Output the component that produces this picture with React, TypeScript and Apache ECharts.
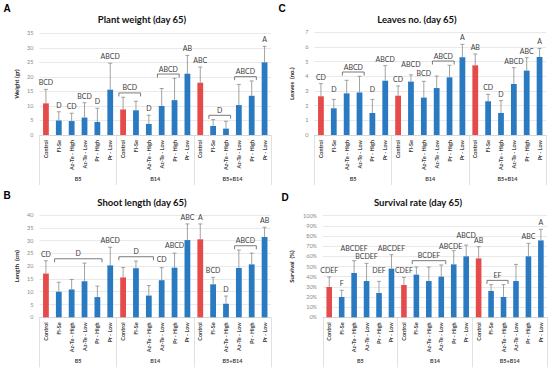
import React, { useEffect, useRef } from "react";
import * as echarts from "echarts";

// ---------- data ----------
const groups = ["B5", "B14", "B5+B14"];
const treatments = ["Control", "Fl-Se", "Az-Te - High", "Az-Te - Low", "Pr - High", "Pr - Low"];
const categories = groups.flatMap(() => treatments);

const weightMean = [10.9, 5.0, 4.8, 6.0, 4.5, 15.6, 8.8, 8.5, 3.8, 10.0, 12.0, 21.1, 18.0, 3.1, 2.2, 10.3, 13.5, 25.0];
const weightSd = [4.8, 3.0, 2.7, 5.1, 4.7, 9.1, 4.2, 3.1, 3.0, 6.0, 7.5, 6.3, 5.4, 2.2, 2.5, 7.1, 5.1, 5.5];
const weightLetters = ["BCD", "D", "CD", "BCD", "D", "ABCD", "", "", "D", "", "", "AB", "ABC", "", "", "", "", "A"];
const weightBrackets: [number, number, string][] = [[6, 7, "BCD"], [9, 10, "ABCD"], [13, 14, "D"], [15, 16, "ABCD"]];

const leavesMean = [2.64, 1.82, 2.84, 2.9, 1.5, 3.7, 2.68, 3.64, 2.55, 3.2, 3.93, 5.3, 4.75, 2.3, 1.5, 3.48, 4.39, 5.32];
const leavesSd = [0.86, 0.61, 0.89, 1.1, 0.93, 1.03, 0.66, 0.46, 1.11, 0.82, 0.82, 0.88, 0.77, 0.47, 0.84, 1.11, 0.88, 0.58];
const leavesLetters = ["CD", "D", "", "", "D", "ABCD", "CD", "ABCD", "BCD", "", "", "A", "AB", "CD", "D", "ABCD", "ABC", "A"];
const leavesBrackets: [number, number, string][] = [[2, 3, "ABCD"], [9, 10, "ABCD"]];

const lengthMean = [17.1, 10.0, 10.9, 14.1, 7.9, 20.3, 15.6, 19.2, 8.5, 14.5, 19.4, 30.2, 30.5, 12.9, 5.3, 19.3, 20.7, 31.4];
const lengthSd = [5.0, 3.7, 3.9, 7.1, 4.3, 7.1, 3.9, 2.8, 3.9, 4.9, 5.7, 6.3, 6.0, 2.7, 3.0, 7.0, 4.4, 3.8];
const lengthLetters = ["CD", "", "", "", "", "ABCD", "", "", "", "CD", "ABCD", "ABC", "A", "BCD", "D", "", "", "AB"];
const lengthBrackets: [number, number, string][] = [[1, 4, "D"], [6, 8, "D"], [15, 16, "ABCD"]];

const survivalMean = [29.8, 20, 43.6, 35.7, 23.9, 47.9, 31.8, 42, 35.7, 40, 52.1, 60, 58, 25.9, 20, 35.7, 60, 75.7];
const survivalSd = [9.9, 6.6, 12.1, 17.4, 11.5, 13.7, 7.5, 7.5, 13.8, 11.5, 13.5, 11.1, 11.5, 6.2, 12.1, 16.4, 12.8, 10.9];
const survivalLetters = ["CDEF", "F", "ABCDEF", "BCDEF", "DEF", "ABCDEF", "CDEF", "", "", "", "ABCDE", "ABCD", "AB", "", "", "", "ABC", "A"];
const survivalBrackets: [number, number, string][] = [[7, 9, "BCDEF"], [13, 14, "EF"]];

// ---------- styling ----------
const RED = "#E64B4B";
const BLUE = "#2A7AC2";
const FONT = "Lato";
const TXT = "#404040";

type Panel = {
  title: string;
  tag: string;
  yName: string;
  mean: number[];
  sd: number[];
  letters: string[];
  brackets: [number, number, string][];
  max: number;
  interval: number;
  percent?: boolean;
  grid: { left: number; top: number; width: number; height: number };
  titlePos: [number, number];
  tagPos: [number, number];
  nameGap: number;
  lift?: Record<number, number>;
  shift?: Record<number, number>;
};

const panels: Panel[] = [
  {
    title: "Plant weight (day 65)", tag: "A", yName: "Weight (gr)",
    mean: weightMean, sd: weightSd, letters: weightLetters, brackets: weightBrackets,
    max: 35, interval: 5,
    grid: { left: 39.5, top: 33.3, width: 231.5, height: 101.7 },
    titlePos: [142, 19], tagPos: [7, 8], nameGap: 20,
  },
  {
    title: "Leaves no. (day 65)", tag: "C", yName: "Leaves  (no.)",
    mean: leavesMean, sd: leavesSd, letters: leavesLetters, brackets: leavesBrackets,
    max: 7, interval: 1,
    grid: { left: 314.5, top: 32.3, width: 231.5, height: 102.7 },
    titlePos: [417, 19], tagPos: [282, 8], nameGap: 20,
    lift: { 1: 3, 4: 3, 7: 4, 8: 1 },
  },
  {
    title: "Shoot length (day 65)", tag: "B", yName: "Length  (cm)",
    mean: lengthMean, sd: lengthSd, letters: lengthLetters, brackets: lengthBrackets,
    max: 40, interval: 5,
    grid: { left: 39.5, top: 215, width: 231.5, height: 102.3 },
    titlePos: [142, 202], tagPos: [7, 195], nameGap: 20,
    lift: { 9: 2, 10: 1 },
  },
  {
    title: "Survival rate (day 65)", tag: "D", yName: "Survival  (%)",
    mean: survivalMean, sd: survivalSd, letters: survivalLetters, brackets: survivalBrackets,
    max: 100, interval: 10, percent: true,
    grid: { left: 323, top: 215.7, width: 224.1, height: 101.6 },
    titlePos: [418, 202], tagPos: [285, 197], nameGap: 28.5,
    lift: { 2: 6, 4: 4, 10: -2, 11: 3.5 },
    shift: { 10: -3 },
  },
];

function buildOption() {
  const grid: any[] = [];
  const xAxis: any[] = [];
  const yAxis: any[] = [];
  const series: any[] = [];
  const graphic: any[] = [];

  panels.forEach((p, i) => {
    grid.push({ ...p.grid, containLabel: false });
    xAxis.push({
      type: "category", gridIndex: i, data: categories,
      axisLine: { lineStyle: { color: "#d0d0d0", width: 0.8 } },
      axisTick: { show: false },
      axisLabel: { rotate: 90, interval: 0, fontSize: 5.5, fontFamily: FONT, fontWeight: "bold", color: TXT, margin: 5 },
      splitLine: { show: false },
    });
    xAxis.push({
      type: "category", gridIndex: i, data: groups, position: "bottom", offset: 50,
      axisLine: { show: false },
      axisTick: { show: true, inside: true, length: 50, lineStyle: { color: "#d9d9d9", width: 0.8 } },
      axisLabel: { inside: true, margin: 3, fontSize: 5.5, fontFamily: FONT, fontWeight: "bold", color: TXT },
      splitLine: { show: false },
    });
    yAxis.push({
      type: "value", gridIndex: i, min: 0, max: p.max, interval: p.interval,
      name: p.yName, nameLocation: "middle", nameGap: p.nameGap, nameRotate: 90,
      nameTextStyle: { fontSize: 6, fontWeight: "bold", fontFamily: FONT, color: "#262626" },
      axisLine: { show: false }, axisTick: { show: false },
      axisLabel: {
        fontSize: 5.5, fontFamily: FONT, color: "#8a8a8a", margin: 6,
        formatter: p.percent ? "{value}%" : "{value}",
      },
      splitLine: { lineStyle: { color: "#e3e3e3", width: 0.8 } },
    });

    const tops = p.mean.map((m, k) => m + p.sd[k]);

    series.push({
      type: "bar", xAxisIndex: 2 * i, yAxisIndex: i, barWidth: "45%",
      data: p.mean.map((v, k) => ({ value: v, itemStyle: { color: k % 6 === 0 ? RED : BLUE } })),
      z: 2,
    });

    series.push({
      type: "custom", xAxisIndex: 2 * i, yAxisIndex: i, z: 3,
      encode: { x: 0, y: 1 },
      data: p.mean.map((m, k) => [k, tops[k], m]),
      renderItem: (params: any, api: any) => {
        const x = api.value(0);
        const p0 = api.coord([x, api.value(2)]);
        const p1 = api.coord([x, api.value(1)]);
        const style = { stroke: "#8c8c8c", lineWidth: 0.8 };
        return {
          type: "group",
          children: [
            { type: "line", shape: { x1: p0[0], y1: p0[1], x2: p1[0], y2: p1[1] }, style },
            { type: "line", shape: { x1: p1[0] - 2, y1: p1[1], x2: p1[0] + 2, y2: p1[1] }, style },
          ],
        };
      },
    });

    const items = p.letters
      .map((t, k) => ({ t, k }))
      .filter((it) => it.t);
    series.push({
      type: "custom", xAxisIndex: 2 * i, yAxisIndex: i, z: 4,
      encode: { x: 0, y: 1 },
      data: items.map((it) => [it.k, tops[it.k]]),
      renderItem: (params: any, api: any) => {
        const it = items[params.dataIndex];
        const pt = api.coord([api.value(0), api.value(1)]);
        const lift = (p.lift && p.lift[it.k]) || 0;
        const shift = (p.shift && p.shift[it.k]) || 0;
        return {
          type: "text",
          style: {
            text: it.t, x: pt[0] + shift, y: pt[1] - 7 - lift,
            align: "center", verticalAlign: "middle",
            fontSize: 7, fontFamily: FONT, fill: TXT,
          },
        };
      },
    });

    series.push({
      type: "custom", xAxisIndex: 2 * i, yAxisIndex: i, z: 4,
      encode: { x: 0, y: 1 },
      data: p.brackets.map(([s, e]) => [s, Math.max(...tops.slice(s, e + 1)), e]),
      renderItem: (params: any, api: any) => {
        const label = p.brackets[params.dataIndex][2];
        const ps = api.coord([api.value(0), api.value(1)]);
        const pe = api.coord([api.value(2), api.value(1)]);
        const band = api.size([1, 0])[0];
        const x1 = ps[0] - band * 0.33;
        const x2 = pe[0] + band * 0.36;
        const y = ps[1] - 4.3;
        return {
          type: "group",
          children: [
            {
              type: "polyline",
              shape: { points: [[x1, y + 3.5], [x1, y], [x2, y], [x2, y + 3.5]] },
              style: { stroke: "#595959", lineWidth: 0.8, fill: "none" },
            },
            {
              type: "text",
              style: {
                text: label, x: (x1 + x2) / 2, y: y - 5.5,
                align: "center", verticalAlign: "middle",
                fontSize: 7, fontFamily: FONT, fill: TXT,
              },
            },
          ],
        };
      },
    });

    graphic.push({
      type: "text", x: p.titlePos[0], y: p.titlePos[1],
      style: {
        text: p.title, align: "center", verticalAlign: "middle",
        fontSize: 9.5, fontWeight: "bold", fontFamily: FONT, fill: "#111",
      },
    });
    graphic.push({
      type: "text", x: p.tagPos[0], y: p.tagPos[1],
      style: {
        text: p.tag, align: "center", verticalAlign: "middle",
        fontSize: 10, fontWeight: "bold", fontFamily: "Liberation Sans", fill: "#000",
      },
    });
  });

  return { animation: false, backgroundColor: "#fff", grid, xAxis, yAxis, series, graphic };
}

export default function App() {
  const ref = useRef<HTMLDivElement>(null);
  useEffect(() => {
    if (!ref.current) return;
    const chart = echarts.init(ref.current, undefined, { renderer: "svg" });
    chart.setOption(buildOption() as any);
    return () => chart.dispose();
  }, []);
  return (
    <div
      ref={ref}
      style={{ position: "absolute", left: 0, top: 0, width: 550, height: 373, background: "#fff" }}
    />
  );
}
